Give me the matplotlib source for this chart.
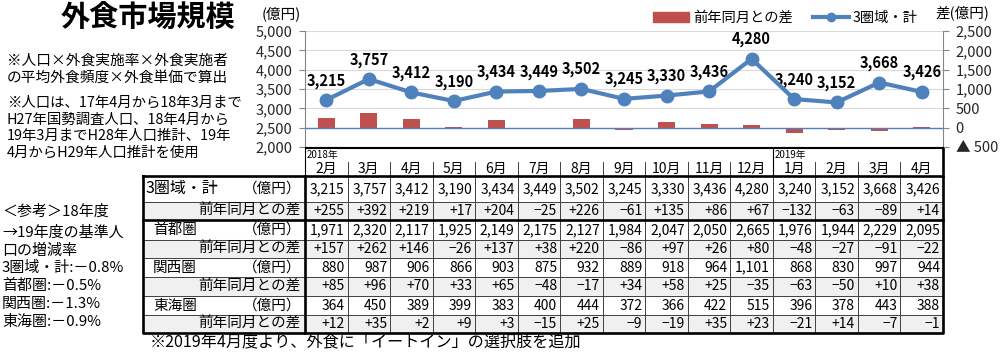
import matplotlib
matplotlib.use("Agg")
import matplotlib.pyplot as plt
from matplotlib.patches import Patch, Rectangle
from matplotlib.lines import Line2D
import numpy as np

plt.rcParams['font.family'] = ['Noto Sans CJK JP', 'DejaVu Sans']

months = ["2月", "3月", "4月", "5月", "6月", "7月", "8月", "9月", "10月", "11月", "12月",
          "1月", "2月", "3月", "4月"]
total = [3215, 3757, 3412, 3190, 3434, 3449, 3502, 3245, 3330, 3436, 4280, 3240, 3152, 3668, 3426]
total_diff = [255, 392, 219, 17, 204, -25, 226, -61, 135, 86, 67, -132, -63, -89, 14]
shuto = [1971, 2320, 2117, 1925, 2149, 2175, 2127, 1984, 2047, 2050, 2665, 1976, 1944, 2229, 2095]
shuto_diff = [157, 262, 146, -26, 137, 38, 220, -86, 97, 26, 80, -48, -27, -91, -22]
kansai = [880, 987, 906, 866, 903, 875, 932, 889, 918, 964, 1101, 868, 830, 997, 944]
kansai_diff = [85, 96, 70, 33, 65, -48, -17, 34, 58, 25, -35, -63, -50, 10, 38]
tokai = [364, 450, 389, 399, 383, 400, 444, 372, 366, 422, 515, 396, 378, 443, 388]
tokai_diff = [12, 35, 2, 9, 3, -15, 25, -9, -19, 35, 23, -21, 14, -7, -1]
regions = ["3圏域・計", "首都圏", "関西圏", "東海圏"]

notes_top = ["※人口×外食実施率×外食実施者", "の平均外食頻度×外食単価で算出"]
notes_pop = ["※人口は、17年4月から18年3月まで", "H27年国勢調査人口、18年4月から",
             "19年3月までH28年人口推計、19年", "4月からH29年人口推計を使用"]
notes_ref = ["＜参考＞18年度", "→19年度の基準人", "口の増減率", "3圏域・計:－0.8%",
             "首都圏:－0.5%", "関西圏:－1.3%", "東海圏:－0.9%"]
footer = "※2019年4月度より、外食に「イートイン」の選択肢を追加"

BLUE = "#4f81bd"
RED = "#c0504d"

W, H = 1000, 352
fig = plt.figure(figsize=(10, 3.52), dpi=100)


def fx(x):
    return x / W


def fy(y):
    return 1 - y / H


# layout in pixels
TAB_L, TAB_R, LAB_L = 305, 943, 143
PLOT_T, PLOT_B = 31, 147
row_edges = [176, 202, 220, 240, 258, 277, 296, 315, 333]
n = len(months)
col_w = (TAB_R - TAB_L) / n

# overlay for text and table
ov = fig.add_axes([0, 0, 1, 1])
ov.set_xlim(0, W)
ov.set_ylim(H, 0)
ov.axis("off")

ov.text(148, 18, "外食市場規模", fontsize=21, fontweight="bold", ha="center", va="center")
for i, s in enumerate(notes_top):
    ov.text(7, 61 + i * 16.5, s, fontsize=10.6, va="center")
for i, s in enumerate(notes_pop):
    ov.text(7, 103 + i * 16.5, s, fontsize=10.4, va="center")
ref_y = [212, 233, 251, 268, 286, 304, 322]
for y, s in zip(ref_y, notes_ref):
    ov.text(2, y, s, fontsize=10.8, va="center")
ov.text(150, 342, footer, fontsize=11.6, va="center")

# table
values = [(total, total_diff), (shuto, shuto_diff), (kansai, kansai_diff), (tokai, tokai_diff)]
for r, (name, (vals, diffs)) in enumerate(zip(regions, values)):
    y0, y1, y2 = row_edges[2 * r], row_edges[2 * r + 1], row_edges[2 * r + 2]
    ov.add_patch(Rectangle((LAB_L, y1), TAB_R - LAB_L, y2 - y1, color="#f0f0f0", zorder=0))
    ym, yd = (y0 + y1) / 2, (y1 + y2) / 2
    if r == 0:
        ov.text(146, ym, name, fontsize=11.5, va="center")
    else:
        ov.text(153, ym, name, fontsize=10.5, va="center")
    ov.text(301, ym, "（億円）", fontsize=10.5, va="center", ha="right")
    ov.text(301, yd, "前年同月との差", fontsize=10.5, va="center", ha="right")
    for c in range(n):
        xr = TAB_L + (c + 1) * col_w - 3
        ov.text(xr, ym, f"{vals[c]:,}", fontsize=10, va="center", ha="right")
        d = diffs[c]
        ds = f"+{d}" if d > 0 else f"−{-d}"
        ov.text(xr, yd, ds, fontsize=10, va="center", ha="right")

# thin grid lines of the table
for y in row_edges[1:-1]:
    ov.plot([LAB_L, TAB_R], [y, y], color="#404040", lw=0.7)
for c in range(1, n):
    xc = TAB_L + c * col_w
    ov.plot([xc, xc], [row_edges[0], row_edges[-1]], color="#404040", lw=0.7)
    ov.plot([xc, xc], [162, 176], color="#404040", lw=0.7)
# header
ov.plot([TAB_L, TAB_R], [148, 148], color="black", lw=0.8)
ov.plot([TAB_L, TAB_L], [148, 176], color="black", lw=0.8)
x2019 = TAB_L + 11 * col_w
ov.plot([x2019, x2019], [148, 176], color="black", lw=0.8)
ov.text(TAB_L + 2, 155, "2018年", fontsize=7, va="center")
ov.text(x2019 + 2, 155, "2019年", fontsize=7, va="center")
for c, m in enumerate(months):
    ov.text(TAB_L + (c + 0.5) * col_w, 169, m, fontsize=10, ha="center", va="center")
# thick borders
thick = dict(color="black", lw=1.9, solid_capstyle="projecting")
ov.plot([LAB_L, TAB_R, TAB_R, LAB_L, LAB_L],
        [row_edges[0], row_edges[0], row_edges[-1], row_edges[-1], row_edges[0]], **thick)
ov.plot([TAB_R, TAB_R], [148, row_edges[0]], **thick)
ov.plot([TAB_L, TAB_L], [row_edges[0], row_edges[-1]], **thick)
ov.plot([LAB_L, TAB_R], [row_edges[2], row_edges[2]], **thick)

# chart
ax = fig.add_axes([fx(TAB_L), fy(PLOT_B), (TAB_R - TAB_L) / W, (PLOT_B - PLOT_T) / H])
ax2 = ax.twinx()
x = np.arange(n)

ax2.bar(x, total_diff, width=0.4, color=RED, zorder=2)
ax2.axhline(0, color=BLUE, lw=1, zorder=3)
ax2.set_ylim(-500, 2500)
ax2.set_yticks(np.arange(-500, 2501, 500))
ax2.set_yticklabels(["▲ 500"] + [f"{v:,}" for v in range(0, 2501, 500)])
ax2.yaxis.grid(True, color="#d9d9d9", lw=0.8, zorder=0)
ax2.set_axisbelow(True)

ax.plot(x, total, color=BLUE, lw=3, marker="o", ms=9, zorder=4)
for i, v in enumerate(total):
    ax.annotate(f"{v:,}", (i, v), xytext=(0, 14), textcoords="offset points",
                ha="center", va="center", fontsize=10.5, fontweight="bold")
ax.set_ylim(2000, 5000)
ax.set_yticks(np.arange(2000, 5001, 500))
ax.set_yticklabels([f"{v:,}" for v in range(2000, 5001, 500)])
ax.set_xlim(-0.5, n - 0.5)
ax.set_xticks([])
ax.set_zorder(ax2.get_zorder() + 1)
ax.patch.set_visible(False)

for a in (ax, ax2):
    a.spines["top"].set_visible(False)
ax.spines["right"].set_visible(False)
ax2.spines["left"].set_visible(False)
ax2.spines["bottom"].set_visible(False)
ax.spines["left"].set_color("#868686")
ax2.spines["right"].set_color("#868686")
ax.spines["bottom"].set_color("black")
ax.tick_params(axis="y", length=4, color="#868686", labelsize=10.5, labelcolor="#262626", pad=5)
ax2.tick_params(axis="y", length=4, color="#868686", labelsize=10.5, labelcolor="#262626", pad=5)

ov.text(281, 14, "(億円)", fontsize=10.5, ha="center", va="center")
ov.text(962, 13, "差(億円)", fontsize=10.5, ha="center", va="center")

handles = [Patch(color=RED), Line2D([], [], color=BLUE, lw=3, marker="o", ms=6)]
ax.legend(handles, ["前年同月との差", "3圏域・計"], loc="center left",
          bbox_to_anchor=(fx(653), fy(18)), bbox_transform=fig.transFigure, ncol=2,
          frameon=False, fontsize=10.3, handlelength=2.5, handleheight=0.65,
          handletextpad=0.3, columnspacing=1.4, borderpad=0, borderaxespad=0)

fig.savefig("out.png", dpi=100)
